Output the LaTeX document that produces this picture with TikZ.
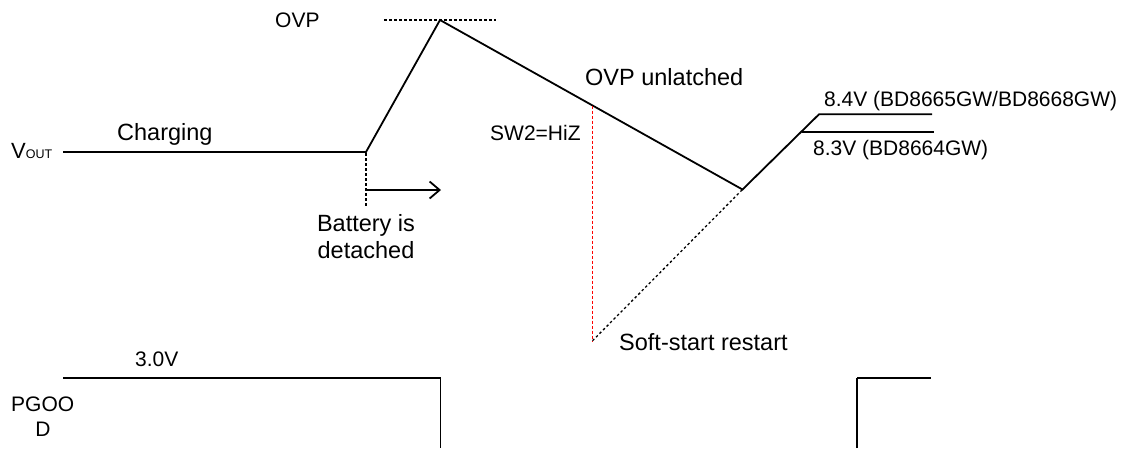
\documentclass[tikz,border=0pt]{standalone}
\usepackage{fontspec}
\setmainfont{Liberation Sans}
\usetikzlibrary{arrows.meta}
\tikzset{
  sig/.style={line width=1.8pt, black},
  pg/.style={line width=2.4pt, black},
  pgv/.style={line width=1.7pt, black},
  dotline/.style={line width=1.3pt, dash pattern=on 2.5pt off 2.5pt},
  reddot/.style={line width=1.6pt, dash pattern=on 3pt off 2pt, red},
  big/.style={inner sep=0pt, font=\fontsize{23.5}{27}\selectfont},
  small/.style={inner sep=0pt, font=\fontsize{21}{25}\selectfont},
}
\begin{document}
\begin{tikzpicture}[x=1pt,y=-1pt]
\useasboundingbox (0,0) rectangle (1125,448);
% key points
\coordinate (v0) at (63,152);
\coordinate (v1) at (366,152);
\coordinate (pk) at (440,20);
\coordinate (bend) at (742.5,189.5);
\coordinate (r83) at (801.5,131.7);
\coordinate (r84) at (819,114.3);
\coordinate (e84) at (932,114.3);
\coordinate (e83) at (934,131.7);
\coordinate (ovpl) at (384,20);
\coordinate (ovpr) at (496,20);
\coordinate (swtop) at (592.5,105.5);
\coordinate (swbot) at (592.5,340.7);
\coordinate (dettop) at (366,153);
\coordinate (detbot) at (366,206);
\coordinate (arrs) at (367,190);
\coordinate (arre) at (441,190);
% PGOOD
\coordinate (p0) at (63,377.7);
\coordinate (p1) at (440.5,377.7);
\coordinate (p2) at (440.5,448);
\coordinate (p3) at (857,448);
\coordinate (p4) at (857,377.7);
\coordinate (p5) at (931,377.7);

\draw[sig, line join=miter] (v0) -- (v1) -- (pk) -- (bend) -- (r84) -- (e84);
\draw[sig] (r83) -- (e83);
\draw[dotline] (ovpl) -- (ovpr);
\draw[reddot] (swtop) -- (swbot);
\draw[dotline] (swbot) -- (bend);
\draw[dotline] (dettop) -- (detbot);
\draw[sig, -{Straight Barb[length=10pt,width=17pt,line width=1.8pt]}] (arrs) -- (arre);
\draw[pg] (p0) -- (p1);
\draw[pgv] (p1) -- (p2);
\draw[pgv] (p3) -- (p4);
\draw[pg] (p4) -- (p5);

% labels
\node[inner sep=0pt, anchor=base west] (lvout) at (11,158.7) {\fontsize{22}{22}\selectfont V\fontsize{12.5}{12.5}\selectfont OUT};
\node[big, anchor=base west] (lchg) at (117,140) {Charging};
\node[big, anchor=base] (lbat1) at (366,231.7) {Battery is};
\node[big, anchor=base] (lbat2) at (366,258) {detached};
\node[small, anchor=base west] (lovp) at (275,27.3) {OVP};
\node[big, anchor=base west] (lunl) at (585,85) {OVP unlatched};
\node[small, anchor=base west] (lsw) at (490,140) {SW2=HiZ};
\node[small, anchor=base west] (l84) at (824,106) {8.4V (BD8665GW/BD8668GW)};
\node[small, anchor=base west] (l83) at (813,155) {8.3V (BD8664GW)};
\node[big, anchor=base west] (lss) at (619,350) {Soft-start restart};
\node[small, anchor=base west] (l30) at (135,366.7) {3.0V};
\node[small, anchor=base west] (lpg1) at (11,411.7) {PGOO};
\node[small, anchor=base] (lpg2) at (43,436.7) {D};
\end{tikzpicture}
\end{document}
